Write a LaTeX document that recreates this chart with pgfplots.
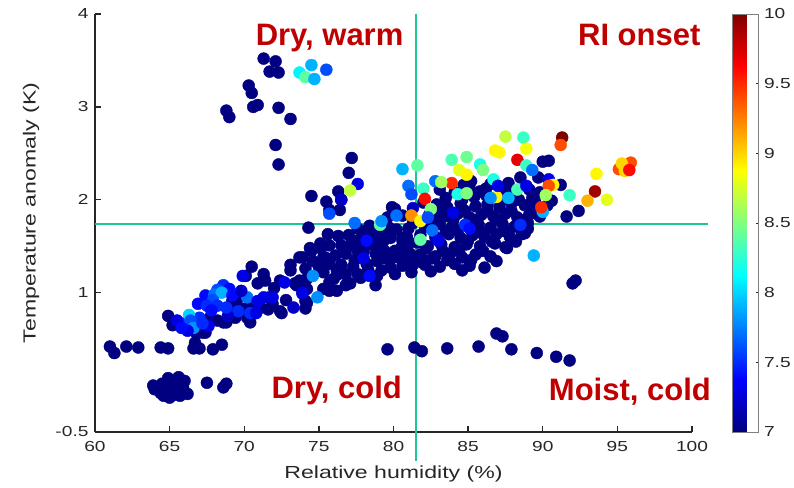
\documentclass[border=0pt]{standalone}
\usepackage{pgfplots}
\pgfplotsset{compat=1.18}
\usepackage{fontspec}
\setmainfont{Liberation Sans}
\newfontfamily\axfont[FakeStretch=1.32]{Liberation Sans}
\definecolor{lblred}{RGB}{192,0,0}
\definecolor{crossc}{RGB}{30,198,150}
\definecolor{axgray}{RGB}{38,38,38}
\pgfplotstableread{
x y c
71.3 3.52 7
72.1 3.49 7
71.7 3.38 7
72.3 3.37 7
70.3 3.23 7
70.5 3.15 7
70.6 3.00 7
70.9 3.02 7
68.8 2.96 7
69.0 2.89 7
72.3 2.99 7
73.1 2.87 7
72.1 2.59 7
72.3 2.38 7
77.2 2.45 7
77.0 2.29 7
76.3 2.09 7
76.5 2.00 7
74.5 2.04 7
75.5 1.98 7
75.7 1.89 7
76.4 1.89 7
74.3 1.70 7
82.0 1.97 7
80.1 1.90 7
80.0 1.90 7
90.0 2.41 7
90.4 2.42 7
92.4 1.88 7
91.6 1.82 7
91.2 2.16 7
92.2 1.13 7
92.0 1.10 7
84.7 2.16 7
86.5 2.17 7
87.7 2.18 7
89.7 2.24 7
90.3 1.94 7
86.1 1.27 7
86.9 1.34 7
87.6 1.48 7
88.6 1.63 7
79.9 1.92 7
77.6 1.69 7
75.6 1.63 7
76.3 1.61 7
78.2 1.67 7
78.4 1.72 7
79.6 1.81 7
80.6 1.83 7
81.0 1.69 7
81.3 1.75 7
80.6 1.59 7
79.8 1.59 7
79.1 1.65 7
77.6 1.56 7
77.1 1.51 7
76.5 1.51 7
75.7 1.51 7
75.1 1.48 7
74.5 1.45 7
73.9 1.38 7
73.1 1.30 7
74.1 1.26 7
74.6 1.34 7
75.4 1.38 7
76.1 1.40 7
76.8 1.42 7
77.6 1.45 7
78.8 1.42 7
79.4 1.45 7
80.0 1.38 7
80.6 1.29 7
79.4 1.37 7
78.9 1.34 7
75.3 1.22 7
76.2 1.24 7
76.8 1.20 7
77.8 1.16 7
78.9 1.18 7
78.8 1.08 7
76.8 1.08 7
75.7 1.11 7
75.3 1.04 7
73.7 1.13 7
73.5 1.08 7
72.4 1.13 7
74.1 0.91 7
74.1 0.83 7
72.5 0.78 7
73.1 1.24 7
76.2 1.02 7
77.1 1.10 7
81.6 1.34 7
82.2 1.34 7
81.6 1.54 7
82.2 1.48 7
70.1 1.18 7
71.3 1.20 7
71.4 1.13 7
74.2 1.04 7
72.4 0.80 7
69.5 0.91 7
70.4 0.88 7
71.7 0.95 7
71.9 0.88 7
71.1 0.84 7
70.2 0.73 7
70.4 0.68 7
69.4 0.73 7
68.8 0.68 7
68.2 0.70 7
67.7 0.73 7
67.2 0.57 7
66.8 0.56 7
64.9 0.75 7
65.2 0.65 7
69.4 0.84 7
66.7 0.46 7
66.6 0.40 7
67.0 0.40 7
67.9 0.39 7
68.5 0.44 7
64.4 0.41 7
64.9 0.40 7
61.0 0.42 7
61.3 0.35 7
62.1 0.42 7
62.9 0.41 7
63.9 0.00 7
64.5 0.02 7
65.0 0.03 7
65.6 0.09 7
65.9 -0.02 7
66.2 -0.09 7
65.0 -0.13 7
64.4 -0.08 7
65.2 -0.05 7
65.7 -0.11 7
64.0 -0.04 7
64.7 -0.03 7
64.9 0.08 7
65.5 0.02 7
65.3 -0.10 7
64.6 -0.11 7
66.0 0.05 7
67.5 0.03 7
68.6 -0.02 7
68.8 0.02 7
79.6 0.39 7
81.4 0.41 7
81.9 0.37 7
83.6 0.40 7
85.7 0.42 7
86.9 0.56 7
87.3 0.53 7
87.9 0.39 7
89.6 0.35 7
90.9 0.31 7
91.8 0.27 7
70.5 1.28 7
71.3 1.14 7
73.7 1.38 7
74.4 1.48 7
75.1 1.53 7
75.3 1.38 7
75.7 1.31 7
76.3 1.20 7
76.9 1.10 7
77.6 1.20 7
78.2 1.31 7
79.8 1.27 7
80.4 1.38 7
80.9 1.31 7
82.0 1.32 7
82.6 1.37 7
79.1 1.38 7
80.1 1.45 7
80.6 1.56 7
74.2 1.15 7
73.4 1.10 7
73.9 0.99 7
75.7 1.02 7
74.2 0.89 7
70.9 1.10 7
69.2 0.91 7
70.1 0.83 7
68.6 0.68 7
67.4 0.57 7
71.6 0.82 7
72.8 0.92 7
72.0 1.05 7
83.1 2.11 7
84.1 2.08 7
85.1 2.12 7
85.8 2.09 7
87.5 2.10 7
88.1 2.07 7
89.1 2.11 7
89.8 2.08 7
82.9 1.95 7
83.6 1.92 7
84.5 1.96 7
85.5 1.93 7
86.3 1.95 7
87.1 1.92 7
87.9 1.96 7
88.8 1.94 7
89.5 1.97 7
90.6 1.99 7
82.4 1.84 7
83.4 1.82 7
84.3 1.85 7
85.1 1.81 7
85.9 1.84 7
86.7 1.82 7
87.5 1.85 7
88.3 1.81 7
89.1 1.84 7
89.8 1.82 7
82.1 1.71 7
83.1 1.74 7
83.9 1.70 7
85.7 1.73 7
86.5 1.70 7
87.3 1.74 7
88.1 1.71 7
89.0 1.75 7
81.8 1.62 7
82.8 1.60 7
83.7 1.63 7
84.5 1.59 7
85.3 1.62 7
86.1 1.60 7
86.9 1.63 7
87.8 1.60 7
88.8 1.64 7
82.3 1.50 7
83.2 1.52 7
84.1 1.49 7
84.9 1.52 7
85.8 1.50 7
86.8 1.53 7
87.5 1.49 7
81.8 1.41 7
82.8 1.39 7
83.8 1.42 7
84.6 1.38 7
85.5 1.41 7
86.5 1.39 7
82.1 1.30 7
83.1 1.28 7
84.1 1.31 7
85.1 1.29 7
77.0 1.62 7
77.9 1.60 7
78.6 1.52 7
79.3 1.55 7
80.2 1.68 7
79.0 1.47 7
78.0 1.45 7
80.5 1.48 7
81.1 1.42 7
80.9 1.60 7
79.7 1.70 7
78.8 1.62 7
77.4 1.35 7
76.5 1.30 7
75.0 1.28 7
76.0 1.15 7
77.3 1.28 7
78.3 1.25 7
79.2 1.24 7
80.1 1.20 7
81.2 1.22 7
81.0 1.52 7
83.5 2.02 7
84.6 2.00 7
85.4 2.03 7
86.2 2.05 7
87.3 2.00 7
88.4 2.00 7
89.3 2.02 7
83.0 1.88 7
84.0 1.78 7
84.8 1.88 7
85.6 1.78 7
86.3 1.88 7
87.1 1.78 7
87.9 1.88 7
88.7 1.78 7
89.5 1.89 7
82.7 1.78 7
83.5 1.66 7
84.3 1.67 7
85.0 1.56 7
85.9 1.65 7
86.6 1.55 7
87.5 1.66 7
88.2 1.55 7
83.3 1.45 7
84.4 1.45 7
85.2 1.35 7
86.0 1.45 7
83.6 1.35 7
82.5 1.23 7
84.6 1.24 7
86.2 2.12 7
85.2 2.20 7
88.5 2.24 7
89.0 1.69 7
81.3 1.30 7
}\darkpts
\pgfplotstableread{
x y c
73.7 3.37 8.1
74.1 3.32 8.4
74.5 3.45 7.9
74.7 3.30 7.9
75.5 3.40 7.6
77.6 2.17 7.3
77.1 2.10 8.7
76.5 2.00 7.2
75.7 1.85 7.6
80.6 2.33 7.9
81.6 2.37 8.4
81.0 2.15 7.7
81.2 2.06 7.6
82.0 2.12 8.3
82.1 2.01 9.6
82.8 2.20 7.7
82.5 1.90 8.5
81.3 1.91 7.2
81.2 1.83 9.2
81.8 1.77 8.9
80.2 1.83 7.7
82.3 1.81 7.6
79.1 1.73 8.4
79.2 1.77 7.8
77.4 1.75 7.7
78.2 1.56 7.4
81.8 1.57 8.4
82.6 1.67 7.7
83.0 1.56 7.3
87.5 2.68 8.7
88.7 2.67 8.3
91.3 2.67 10
91.2 2.59 9.4
88.9 2.55 8.85
86.8 2.53 8.9
87.1 2.51 8.9
83.9 2.43 8.35
84.9 2.46 8.45
88.3 2.43 9.7
85.8 2.38 8.2
88.9 2.37 8.3
89.3 2.32 7.7
84.4 2.32 8.8
84.9 2.27 8.9
86.0 2.32 8.5
95.9 2.40 9.4
95.1 2.33 9.4
95.3 2.39 9.0
95.5 2.31 9.0
95.8 2.32 9.6
93.6 2.28 8.9
93.5 2.09 9.9
94.3 2.00 8.8
93.0 1.99 9.1
91.8 2.05 8.3
90.4 2.22 7.3
90.7 2.16 8.9
90.4 2.15 9.4
90.2 2.05 8.6
90.0 1.87 7.9
89.9 1.92 9.5
89.4 1.40 7.9
86.7 2.22 8.2
88.3 2.11 8.35
86.9 2.03 8.9
87.7 2.02 7.9
84.3 2.06 8.2
84.9 2.07 8.5
83.9 2.18 9.5
83.2 2.19 8.6
84.8 1.73 7.5
85.1 1.69 7.4
88.5 1.73 7.5
86.5 2.02 7.8
87.0 2.15 7.3
88.9 2.15 7.3
84.0 1.86 7.3
78.0 1.37 7.3
74.6 1.18 7.8
78.4 1.18 7.4
74.9 0.95 7.8
73.9 1.00 7.3
72.7 1.11 7.3
71.9 0.95 7.3
73.3 0.84 7.2
68.6 1.08 7.5
69.0 1.04 7.4
68.2 1.03 7.6
67.4 0.97 7.4
68.0 0.98 7.7
68.5 1.00 7.9
69.2 0.97 7.4
70.2 0.95 7.7
70.9 0.91 7.3
71.3 0.95 7.3
70.4 0.78 7.5
67.0 0.73 7.5
66.9 0.88 7.4
67.9 0.92 7.6
69.6 0.80 7.5
66.0 0.67 7.5
65.5 0.70 7.3
67.6 0.64 7.3
68.9 0.75 7.2
70.8 0.78 7.3
69.8 1.02 7.2
66.3 0.76 8.0
66.4 0.70 7.6
66.6 0.62 7.8
66.2 0.59 7.3
65.8 0.62 7.4
67.2 0.67 7.5
68.8 0.84 7.5
68.2 0.86 7.5
67.5 0.86 7.5
67.8 0.81 7.4
69.9 1.18 7.3
}\colpts
\begin{document}
\begin{tikzpicture}
\path[use as bounding box] (-95pt,-55pt) rectangle (699pt,432pt);
\begin{axis}[
  at={(0pt,0pt)}, anchor=south west,
  scale only axis, width=597pt, height=418pt,
  xmin=60, xmax=100, ymin=-0.5, ymax=4,
  xtick={60,65,...,100}, ytick={-0.5,1,2,3,4},
  axis x line=bottom, axis y line=left,
  axis line style={-, line width=1.6pt, color=axgray},
  every tick/.style={line width=1.4pt, color=axgray},
  tick align=inside, major tick length=6pt,
  /pgf/number format/assume math mode=true,
  ticklabel style={font=\axfont\fontsize{14.5}{14.5}\selectfont, text=axgray},
  xticklabel style={yshift=-6pt},
  yticklabel style={xshift=-3pt},
  label style={font=\axfont\fontsize{17.5}{17.5}\selectfont, text=axgray},
  xlabel={Relative humidity (\%)},
  ylabel={Temperature anomaly (K)},
  xlabel style={at={(axis description cs:0.5,-0.1)}, anchor=center},
  ylabel style={at={(axis description cs:-0.107,0.524)}, anchor=center},
  clip=false,
  colormap/jet,
  point meta min=7, point meta max=10,
  colorbar,
  colorbar style={
    at={(parent axis.north east)}, anchor=north west, xshift=32pt,
    width=26pt,
    ytick={7,7.5,...,10},
    yticklabel pos=right, ytick pos=right,
    tick align=inside, major tick length=3pt,
    every tick/.style={line width=0.6pt, color=axgray},
    axis line style={line width=0.6pt, color=gray},
    yticklabel style={font=\axfont\fontsize{14.5}{14.5}\selectfont, text=axgray, xshift=2pt},
    /pgf/number format/assume math mode=true,
  },
]
\addplot[scatter, only marks, mark=*, mark size=6pt, scatter src=explicit,
  scatter/use mapped color={draw=mapped color, fill=mapped color}]
  table[x=x, y=y, meta=c] {\darkpts};
\addplot[scatter, only marks, mark=*, mark size=6pt, scatter src=explicit,
  scatter/use mapped color={draw=mapped color, fill=mapped color}]
  table[x=x, y=y, meta=c] {\colpts};
\addplot[crossc, line width=1.8pt, no marks] coordinates {(81.5,4) (81.5,-0.81)};
\addplot[crossc, line width=1.8pt, no marks] coordinates {(60,1.74) (101.07,1.74)};
\node[anchor=base east, text=lblred, font=\fontsize{31}{31}\selectfont\bfseries] at (axis cs:80.9,3.66) {Dry, warm};
\node[anchor=base east, text=lblred, font=\fontsize{31}{31}\selectfont\bfseries] at (axis cs:100.8,3.66) {RI onset};
\node[anchor=base east, text=lblred, font=\fontsize{31}{31}\selectfont\bfseries] at (axis cs:80.8,-0.14) {Dry, cold};
\node[anchor=base east, text=lblred, font=\fontsize{31}{31}\selectfont\bfseries] at (axis cs:101.5,-0.16) {Moist, cold};
\end{axis}
\end{tikzpicture}
\end{document}
